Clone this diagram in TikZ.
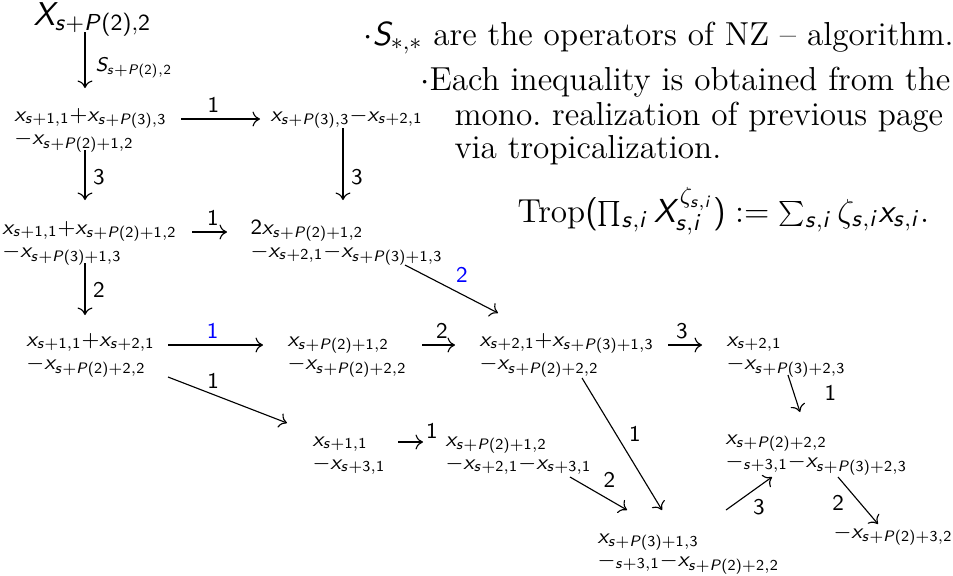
\RequirePackage{fix-cm}
\documentclass[tikz,border=0pt]{standalone}
\usepackage{xcolor}
\usepackage{tikz}
\usetikzlibrary{calc}
\usetikzlibrary{arrows.meta}
\definecolor{C0}{RGB}{0, 0, 255}
%% sans-serif letters and digits in math
\DeclareSymbolFont{sfslant}{OT1}{cmss}{m}{sl}
\DeclareSymbolFont{sfupright}{OT1}{cmss}{m}{n}
\DeclareMathSymbol{x}{\mathalpha}{sfslant}{`x}
\DeclareMathSymbol{s}{\mathalpha}{sfslant}{`s}
\DeclareMathSymbol{i}{\mathalpha}{sfslant}{`i}
\DeclareMathSymbol{P}{\mathalpha}{sfslant}{`P}
\DeclareMathSymbol{S}{\mathalpha}{sfslant}{`S}
\DeclareMathSymbol{X}{\mathalpha}{sfslant}{`X}
\DeclareMathSymbol{0}{\mathalpha}{sfupright}{`0}
\DeclareMathSymbol{1}{\mathalpha}{sfupright}{`1}
\DeclareMathSymbol{2}{\mathalpha}{sfupright}{`2}
\DeclareMathSymbol{3}{\mathalpha}{sfupright}{`3}
\DeclareMathSymbol{4}{\mathalpha}{sfupright}{`4}
\DeclareMathSymbol{5}{\mathalpha}{sfupright}{`5}
\DeclareMathSymbol{6}{\mathalpha}{sfupright}{`6}
\DeclareMathSymbol{7}{\mathalpha}{sfupright}{`7}
\DeclareMathSymbol{8}{\mathalpha}{sfupright}{`8}
\DeclareMathSymbol{9}{\mathalpha}{sfupright}{`9}
\DeclareMathDelimiter{(}{\mathopen}{sfupright}{`(}{largesymbols}{"00}
\DeclareMathDelimiter{)}{\mathclose}{sfupright}{`)}{largesymbols}{"01}
%% math sizes: remarks, top vertex, vertices (script style)
\DeclareMathSizes{13.3}{13.3}{9.3}{6.65}
\DeclareMathSizes{13.2}{13.2}{9.24}{6.6}
\DeclareMathSizes{11.5}{11.5}{8.65}{6.05}
\newcommand{\oneline}[1]{$\scriptstyle #1$}
\newcommand{\twoline}[2]{\vtop{\baselineskip=9.3pt\lineskiplimit=-\maxdimen
  \hbox{$\scriptstyle #1$}\hbox{$\scriptstyle #2$}}}

\begin{document}
\begin{tikzpicture}[x=0.4pt, y=-0.4pt,
    vtx/.style={anchor=base west, inner sep=0pt, font=\fontsize{11.5}{9}\selectfont},
    lbl/.style={inner sep=0pt, font=\fontsize{9}{10}\selectfont},
    note/.style={anchor=base west, inner sep=0pt, font=\fontsize{13.3}{15.5}\selectfont},
    map/.style={-{To[length=3pt, width=6pt]}, line width=0.45pt}]
    \useasboundingbox (0,0) rectangle (953,575);
    %% remarks
    \node[note] (note1) at (363,45) {$\cdot S_{*,*}$ are the operators of NZ -- algorithm.};
    \node[note] (note2) at (420,90) {$\cdot$Each inequality is obtained from the};
    \node[note] (note3) at (454,125) {mono.\ realization of previous page};
    \node[note] (note4) at (454,158) {via tropicalization.};
    \node[note] (trop) at (517,222)
        {$\mathrm{Trop}\bigl(\prod_{s,i} X_{s,i}^{\zeta_{s,i}}\bigr) := \sum_{s,i}\zeta_{s,i}x_{s,i}.$};
    %% vertices
    \node[vtx, font=\fontsize{13.2}{14}\selectfont] (X0) at (33,25) {$X_{s+P(2),2}$};
    \node[vtx] (V1) at (14,121) {\twoline{x_{s+1,1}+x_{s+P(3),3}}{-x_{s+P(2)+1,2}}};
    \node[vtx] (V2) at (270,121) {\oneline{x_{s+P(3),3}-x_{s+2,1}}};
    \node[vtx] (V3) at (2,234) {\twoline{x_{s+1,1}+x_{s+P(2)+1,2}}{-x_{s+P(3)+1,3}}};
    \node[vtx] (V4) at (250,234) {\twoline{2x_{s+P(2)+1,2}}{-x_{s+2,1}-x_{s+P(3)+1,3}}};
    \node[vtx] (V5) at (26,346) {\twoline{x_{s+1,1}+x_{s+2,1}}{-x_{s+P(2)+2,2}}};
    \node[vtx] (V6) at (287,346) {\twoline{x_{s+P(2)+1,2}}{-x_{s+P(2)+2,2}}};
    \node[vtx] (V7) at (479,346) {\twoline{x_{s+2,1}+x_{s+P(3)+1,3}}{-x_{s+P(2)+2,2}}};
    \node[vtx] (V8) at (726,346) {\twoline{x_{s+2,1}}{-x_{s+P(3)+2,3}}};
    \node[vtx] (V9) at (312,446) {\twoline{x_{s+1,1}}{-x_{s+3,1}}};
    \node[vtx] (V10) at (445,446) {\twoline{x_{s+P(2)+1,2}}{-x_{s+2,1}-x_{s+3,1}}};
    \node[vtx] (V11) at (725,444) {\twoline{x_{s+P(2)+2,2}}{-_{s+3,1}-x_{s+P(3)+2,3}}};
    \node[vtx] (V12) at (597,543) {\twoline{x_{s+P(3)+1,3}}{-_{s+3,1}-x_{s+P(2)+2,2}}};
    \node[vtx] (V13) at (833,538) {\oneline{-x_{s+P(2)+3,2}}};
    %% maps
    \draw[map] ($(X0.base west)+(52,7)$) -- node[lbl, pos=0.64, right=4pt, font=\fontsize{7.9}{10}\selectfont] (lS) {$S_{s+P(2),2}$} ($(V1.base west)+(71,-33)$);
    \draw[map] ($(V1.base west)+(167,-2)$) -- node[lbl, pos=0.41, above=2.5pt] (l1) {$1$} ($(V2.base west)+(-10,-2)$);
    \draw[map] ($(V1.base west)+(71,29)$) -- node[lbl, pos=0.54, right=3pt] (l2) {$3$} ($(V3.base west)+(83,-34)$);
    \draw[map] ($(V2.base west)+(73,7)$) -- node[lbl, pos=0.68, right=3pt] (l3) {$3$} ($(V4.base west)+(93,-34)$);
    \draw[map] ($(V3.base west)+(190,-2)$) -- node[lbl, pos=0.6, above=2.5pt] (l4) {$1$} ($(V4.base west)+(-23,-2)$);
    \draw[map] ($(V3.base west)+(83,29)$) -- node[lbl, pos=0.52, right=3pt] (l5) {$2$} ($(V5.base west)+(59,-31)$);
    \draw[map] ($(V4.base west)+(155,31)$) -- node[lbl, C0, pos=0.49, above right=2pt] (l6) {$2$} ($(V7.base west)+(19,-33)$);
    \draw[map] ($(V5.base west)+(142,-1)$) -- node[lbl, C0, pos=0.47, above=2.5pt] (l7) {$1$} ($(V6.base west)+(-24,-1)$);
    \draw[map] ($(V6.base west)+(135,-1)$) -- node[lbl, pos=0.6, above=2.5pt] (l8) {$2$} ($(V7.base west)+(-24,-1)$);
    \draw[map] ($(V7.base west)+(189,-1)$) -- node[lbl, pos=0.41, above=2.5pt] (l9) {$3$} ($(V8.base west)+(-24,-1)$);
    \draw[map] ($(V5.base west)+(142,31)$) -- node[lbl, pos=0.38, above=2pt] (l10) {$1$} ($(V9.base west)+(-25,-23)$);
    \draw[map] ($(V9.base west)+(86,-4)$) -- node[lbl, pos=1, above right=1pt] (l11) {$1$} ($(V10.base west)+(-22,-4)$);
    \draw[map] ($(V8.base west)+(62,29)$) -- node[lbl, pos=0.5, right=12pt] (l12) {$1$} ($(V11.base west)+(75,-32)$);
    \draw[map] ($(V7.base west)+(103,32)$) -- node[lbl, pos=0.52, above right=2pt] (l13) {$1$} ($(V12.base west)+(65,-33)$);
    \draw[map] ($(V10.base west)+(125,31)$) -- node[lbl, pos=0.49, above right=2pt] (l14) {$2$} ($(V12.base west)+(30,-33)$);
    \draw[map] ($(V12.base west)+(129,-33)$) -- node[lbl, pos=0.47, below right=2pt] (l15) {$3$} ($(V11.base west)+(47,33)$);
    \draw[map] ($(V11.base west)+(113,33)$) -- node[lbl, pos=0.29, below left=2pt] (l16) {$2$} ($(V13.base west)+(45,-14)$);
\end{tikzpicture}
\end{document}
